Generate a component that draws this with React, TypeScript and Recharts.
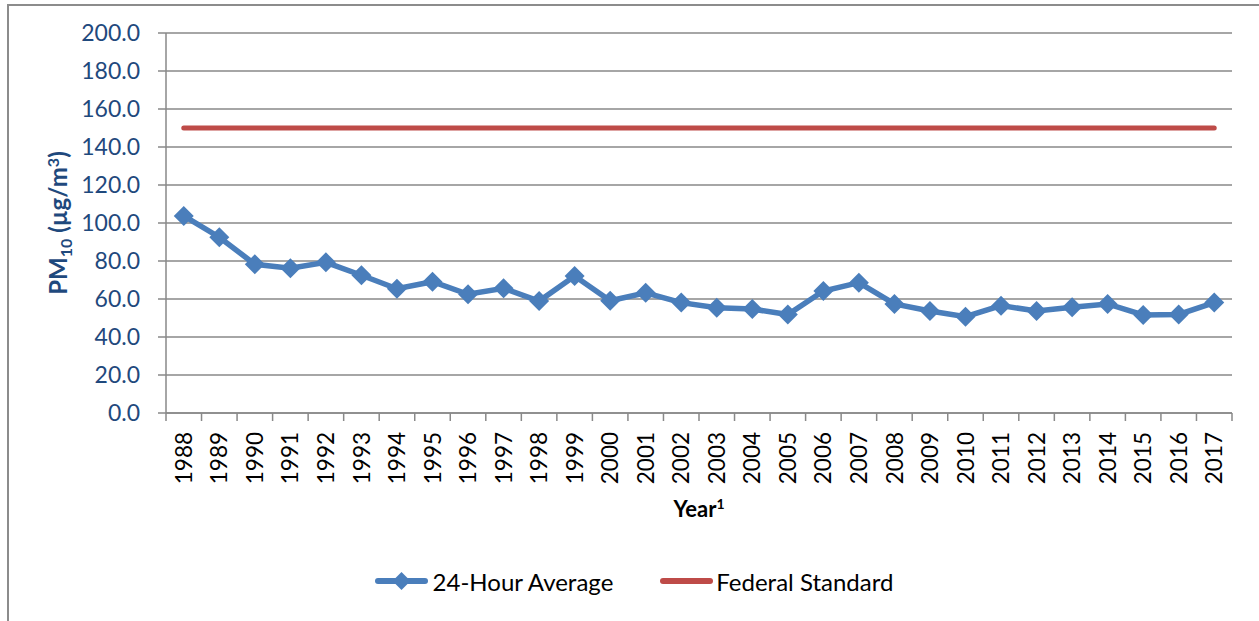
import React from 'react';
import { LineChart, Line, XAxis, YAxis, CartesianGrid, Legend } from 'recharts';

const years = ['1988', '1989', '1990', '1991', '1992', '1993', '1994', '1995', '1996', '1997', '1998', '1999', '2000', '2001', '2002', '2003', '2004', '2005', '2006', '2007', '2008', '2009', '2010', '2011', '2012', '2013', '2014', '2015', '2016', '2017'];
const avg24 = [103.7, 92.5, 78.3, 76.2, 79.3, 72.5, 65.4, 69.1, 62.5, 65.6, 58.9, 72.1, 59.1, 63.3, 58.1, 55.4, 54.7, 51.8, 64.2, 68.6, 57.4, 53.7, 50.7, 56.5, 53.7, 55.6, 57.4, 51.6, 51.9, 58.1];
const federalStandard = [150, 150, 150, 150, 150, 150, 150, 150, 150, 150, 150, 150, 150, 150, 150, 150, 150, 150, 150, 150, 150, 150, 150, 150, 150, 150, 150, 150, 150, 150];
const yTicks = [0, 20, 40, 60, 80, 100, 120, 140, 160, 180, 200];

const data = years.map((y, i) => ({ x: i + 0.5, year: y, avg: avg24[i], std: federalStandard[i] }));
const xTicks: number[] = [];
for (let i = 0; i <= years.length; i++) {
  xTicks.push(i);
  if (i < years.length) xTicks.push(i + 0.5);
}

const BLUE = '#4A7EBB';
const RED = '#BE4B48';
const GRID = '#898989';
const NAVY = '#1F497D';
const FONT = 'Lato, "Open Sans", sans-serif';

const XTick = (props: any) => {
  const { x, y, payload } = props;
  const v = payload.value;
  if (Number.isInteger(v)) {
    return <line x1={x} x2={x} y1={y} y2={y + 8} stroke={GRID} strokeWidth={1.5} />;
  }
  const idx = Math.floor(v);
  return (
    <text transform={`translate(${x},${y + 19}) rotate(-90)`} textAnchor="end" dy="0.36em" fontSize={22.5} fontFamily={FONT} fill="#000">
      {years[idx]}
    </text>
  );
};

const Diamond = (props: any) => {
  const { cx, cy, index } = props;
  if (cx == null || cy == null) return <g key={`d${index}`} />;
  const r = 10;
  return <polygon key={`d${index}`} points={`${cx},${cy - r} ${cx + r},${cy} ${cx},${cy + r} ${cx - r},${cy}`} fill={BLUE} />;
};

const YLabel = (props: any) => {
  const vb = props.viewBox || { x: 0, y: 33, width: 166, height: 380 };
  const cy = vb.y + vb.height / 2;
  return (
    <text transform={`translate(66.5,${cy}) rotate(-90)`} textAnchor="middle" fontSize={24} fontWeight="bold" fontFamily={FONT} fill={NAVY}>
      PM<tspan fontSize={16} dy={5}>10</tspan>
      <tspan dy={-5} fontSize={24}> (µg/m</tspan>
      <tspan fontSize={16} dy={-8}>3</tspan>
      <tspan dy={8} fontSize={24}>)</tspan>
    </text>
  );
};

const XLabel = (props: any) => {
  const vb = props.viewBox || { x: 166, y: 413, width: 1066, height: 148 };
  return (
    <text x={vb.x + vb.width / 2} y={vb.y + 104} textAnchor="middle" fontSize={22} fontWeight="bold" fontFamily={FONT} fill="#000">
      Year<tspan fontSize={14} dy={-8}>1</tspan>
    </text>
  );
};

const renderLegend = () => (
  <div
    style={{
      height: 40,
      width: '100%',
      display: 'flex',
      justifyContent: 'center',
      alignItems: 'center',
      paddingLeft: 36,
      boxSizing: 'border-box',
      fontFamily: FONT,
      fontSize: 24,
      color: '#000',
    }}
  >
    <svg width={53} height={22} style={{ marginRight: 5 }}>
      <line x1={3} x2={50} y1={11} y2={11} stroke={BLUE} strokeWidth={6} strokeLinecap="round" />
      <polygon points="26.5,2 35.5,11 26.5,20 17.5,11" fill={BLUE} />
    </svg>
    <span style={{ marginRight: 47 }}>24-Hour Average</span>
    <svg width={53} height={22} style={{ marginRight: 3 }}>
      <line x1={3} x2={50} y1={11} y2={11} stroke={RED} strokeWidth={6} strokeLinecap="round" />
    </svg>
    <span>Federal Standard</span>
  </div>
);

export default function App() {
  return (
    <div style={{ position: 'absolute', left: 0, top: 0, width: 1259, height: 621, overflow: 'hidden', background: '#fff' }}>
      <div
        style={{
          position: 'absolute',
          left: 7,
          top: 4,
          width: 1300,
          height: 700,
          border: '2px solid #8c8c8c',
          boxSizing: 'border-box',
        }}
      />
      <div style={{ position: 'absolute', left: 0, top: 0 }}>
        <LineChart width={1259} height={621} data={data} margin={{ top: 33, right: 27, bottom: 20, left: 0 }}>
          <CartesianGrid vertical={false} stroke={GRID} strokeWidth={1.5} />
          <XAxis
            dataKey="x"
            type="number"
            domain={[0, years.length]}
            ticks={xTicks}
            interval={0}
            tickLine={false}
            tickSize={0}
            tickMargin={0}
            height={148}
            axisLine={{ stroke: GRID, strokeWidth: 1.5 }}
            tick={<XTick />}
            label={{ content: <XLabel /> }}
            allowDecimals
          />
          <YAxis
            domain={[0, 200]}
            ticks={yTicks}
            interval={0}
            width={166}
            tickSize={8}
            tickMargin={18}
            tickLine={{ stroke: GRID, strokeWidth: 1.5 }}
            axisLine={{ stroke: GRID, strokeWidth: 1.5 }}
            tickFormatter={(v: number) => v.toFixed(1)}
            tick={{ fill: NAVY, fontSize: 23, fontFamily: FONT }}
            label={{ content: <YLabel /> }}
          />
          <Legend verticalAlign="bottom" height={40} content={renderLegend} />
          <Line
            dataKey="std"
            stroke={RED}
            strokeWidth={5}
            strokeLinecap="round"
            dot={false}
            activeDot={false}
            isAnimationActive={false}
            name="Federal Standard"
          />
          <Line
            dataKey="avg"
            stroke={BLUE}
            strokeWidth={5.5}
            dot={(p: any) => <Diamond {...p} key={`d${p.index}`} />}
            activeDot={false}
            isAnimationActive={false}
            name="24-Hour Average"
          />
        </LineChart>
      </div>
    </div>
  );
}
